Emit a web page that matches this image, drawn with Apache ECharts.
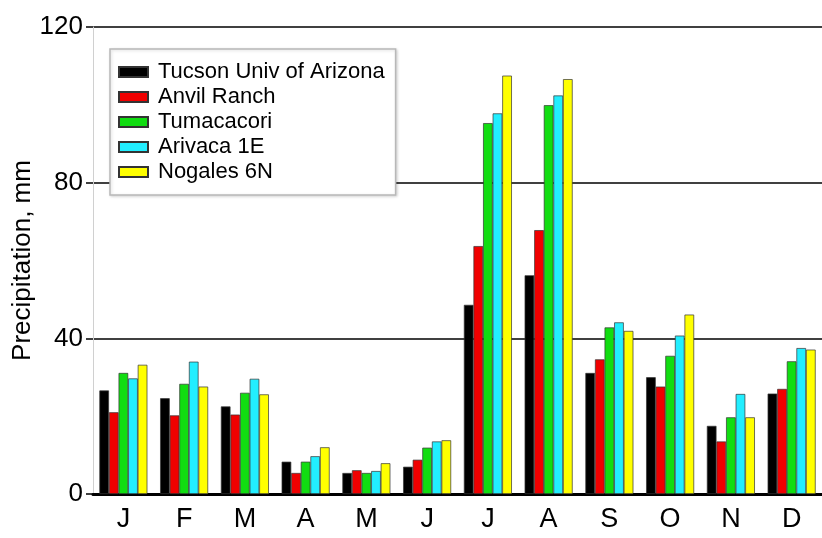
<!DOCTYPE html>
<html>
<head>
<meta charset="utf-8">
<script src="https://cdn.jsdelivr.net/npm/echarts@6/dist/echarts.min.js"></script>
<style>
html,body{margin:0;padding:0;background:#fff;}
#chart{width:822px;height:538px;}
</style>
</head>
<body>
<div id="chart"></div>
<script>
const months = ['J','F','M','A','M','J','J','A','S','O','N','D'];
const yTicks = [0, 40, 80, 120];
const tucson   = [26.6, 24.6, 22.5, 8.3, 5.4, 7.0, 48.6, 56.2, 31.1, 30.0, 17.5, 25.8];
const anvil    = [21.0, 20.2, 20.4, 5.4, 6.1, 8.8, 63.7, 67.8, 34.6, 27.6, 13.5, 27.0];
const tumacacori = [31.1, 28.3, 26.0, 8.3, 5.4, 11.9, 95.3, 99.9, 42.8, 35.5, 19.7, 34.1];
const arivaca  = [29.7, 34.0, 29.6, 9.7, 5.9, 13.5, 97.8, 102.4, 44.1, 40.7, 25.7, 37.5];
const nogales  = [33.2, 27.6, 25.6, 12.0, 7.9, 13.8, 107.5, 106.6, 41.9, 46.1, 19.7, 37.1];
const seriesNames = ['Tucson Univ of Arizona','Anvil Ranch','Tumacacori','Arivaca 1E','Nogales 6N'];
const seriesData = [tucson, anvil, tumacacori, arivaca, nogales];
const colors = ['#000000','#f00000','#11dd11','#22eeff','#ffff00'];

const font = 'Liberation Sans, Arial, sans-serif';
const chart = echarts.init(document.getElementById('chart'));
chart.setOption({
  animation: false,
  textStyle: {fontFamily: font},
  grid: {left: 93, right: 0, top: 27, bottom: 44, containLabel: false, outerBoundsMode: 'none'},
  legend: {
    orient: 'vertical',
    left: 110, top: 49,
    padding: [12, 11, 12, 8],
    borderColor: '#b8b8b8', borderWidth: 1.5,
    backgroundColor: '#fff',
    shadowColor: 'rgba(0,0,0,0.15)', shadowBlur: 3, shadowOffsetX: 1, shadowOffsetY: 1,
    itemWidth: 29, itemHeight: 10, itemGap: 3,
    icon: 'rect',
    textStyle: {fontSize: 22, color: '#000', fontFamily: font, lineHeight: 20, padding: [0, 0, 0, 5]},
    data: seriesNames
  },
  xAxis: {
    type: 'category',
    data: months,
    axisLine: {lineStyle: {color: '#000', width: 3}},
    axisTick: {show: false},
    axisLabel: {fontSize: 27, color: '#000', margin: 12, fontFamily: font}
  },
  yAxis: {
    type: 'value',
    min: 0, max: 120, interval: 40,
    name: 'Precipitation, mm',
    nameLocation: 'middle',
    nameGap: 57,
    nameMoveOverlap: false,
    nameTextStyle: {fontSize: 26, color: '#000', fontFamily: font},
    axisLine: {show: true, lineStyle: {color: '#d0d0d0', width: 1}},
    axisTick: {show: true, length: 7, lineStyle: {color: '#000', width: 1.5}},
    axisLabel: {fontSize: 26, color: '#000', margin: 10, fontFamily: font,
      formatter: v => yTicks.includes(v) ? String(v) : ''},
    splitLine: {show: true, lineStyle: {color: '#000', width: 1.5}}
  },
  series: seriesData.map((d, i) => ({
    name: seriesNames[i],
    type: 'bar',
    data: d,
    barGap: '0%',
    barCategoryGap: '21%',
    itemStyle: {color: colors[i], borderColor: '#333', borderWidth: 0.7}
  }))
});
</script>
</body>
</html>
